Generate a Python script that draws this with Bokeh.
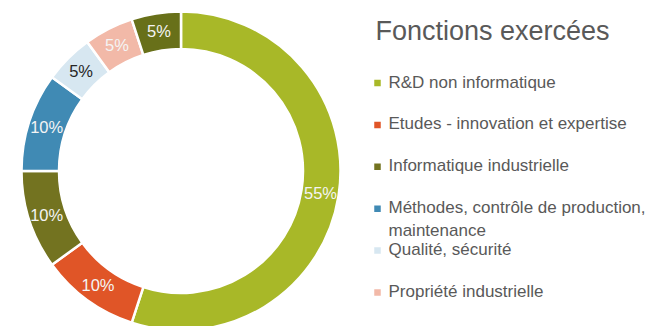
import numpy as np
from bokeh.plotting import figure
from bokeh.models import Range1d, ColumnDataSource
from bokeh.core.properties import value
from bokeh.embed import file_html
from bokeh.resources import INLINE

# ---- data ----
categories = ["R&D non informatique", "Etudes - innovation et expertise",
              "Informatique industrielle",
              "Méthodes, contrôle de production,\nmaintenance",
              "Qualité, sécurité", "Propriété industrielle", "Autres"]
shares = [55, 10, 10, 10, 5, 5, 5]
colors = ["#a8b828", "#e05527", "#737320", "#408ab4", "#d7e7f1", "#f2b9a8", "#687019"]
label_colors = ["#f4f4f4", "#f4f4f4", "#f4f4f4", "#f4f4f4", "#262626", "#f4f4f4", "#f4f4f4"]
legend_count = 6
title = "Fonctions exercées"

W, H = 653, 326
FONT = "Liberation Sans"

p = figure(width=W, height=H, output_backend="svg", toolbar_location=None,
           x_range=Range1d(0, W), y_range=Range1d(0, H),
           x_axis_type=None, y_axis_type=None, min_border=0)
p.outline_line_color = None
p.background_fill_color = "white"

# donut geometry (in pixels)
cx, cy = 180.5, H - 170.5
r_out, r_in = 159.5, 122

vals = np.array(shares, dtype=float)
frac = vals / vals.sum()
cum = np.concatenate([[0], np.cumsum(frac)])
start = np.pi / 2 - cum[:-1] * 2 * np.pi
end = np.pi / 2 - cum[1:] * 2 * np.pi
mid = (start + end) / 2

src = ColumnDataSource(dict(start=start, end=end, color=colors,
                            x=[cx] * len(vals), y=[cy] * len(vals)))
p.annular_wedge(x="x", y="y", inner_radius=r_in, outer_radius=r_out,
                start_angle="start", end_angle="end", direction="clock",
                fill_color="color", line_color="white", line_width=2.5, source=src)

r_lab = (r_in + r_out) / 2 + 0.5
lab = ColumnDataSource(dict(x=cx + r_lab * np.cos(mid), y=cy + r_lab * np.sin(mid),
                            t=[f"{int(v)}%" for v in shares], c=label_colors))
p.text(x="x", y="y", text="t", text_color="c", source=lab,
       text_align="center", text_baseline="middle",
       text_font=value(FONT), text_font_size="16.5px")

# title
p.text(x=[375], y=[H - 30], text=[title], text_color="#595959",
       text_font=value(FONT), text_font_size="27px",
       text_align="left", text_baseline="middle")

# legend
c0, step, lh = H - 81.5, 41.9, 22.6
my = []
lines_x, lines_y, lines_t = [], [], []
for i in range(legend_count):
    c = c0 - i * step
    my.append(c - 1)
    for j, ln in enumerate(categories[i].split("\n")):
        lines_x.append(388)
        lines_y.append(c - j * lh)
        lines_t.append(ln)
p.rect(x=[377] * legend_count, y=my, width=6.5, height=6.5,
       fill_color=colors[:legend_count], line_color=None)
p.text(x=lines_x, y=lines_y, text=lines_t, text_color="#595959",
       text_font=value(FONT), text_font_size="17px",
       text_align="left", text_baseline="middle")

open("out.html", "w").write(file_html(p, INLINE))
